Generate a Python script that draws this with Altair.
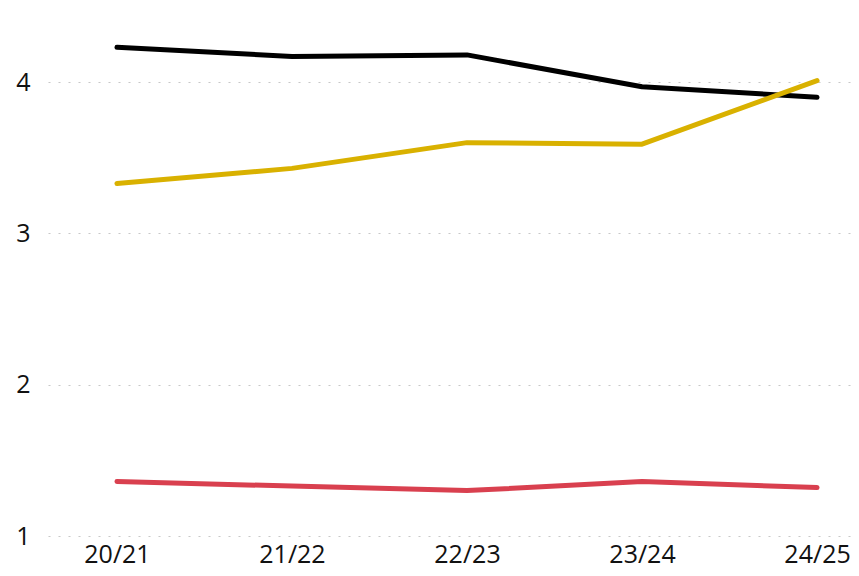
import altair as alt
import pandas as pd

seasons = ["20/21", "21/22", "22/23", "23/24", "24/25"]
black_vals = [4.23, 4.17, 4.18, 3.97, 3.90]
gold_vals = [3.33, 3.43, 3.60, 3.59, 4.01]
red_vals = [1.36, 1.33, 1.30, 1.36, 1.32]

series_names = ["A", "B", "C"]
series_colors = ["#000000", "#D9B100", "#D9404F"]

rows = []
for name, vals in zip(series_names, [black_vals, gold_vals, red_vals]):
    for i, (s, v) in enumerate(zip(seasons, vals)):
        rows.append({"series": name, "idx": i, "season": s, "value": v})
df = pd.DataFrame(rows)

label_expr = "[" + ",".join(f"'{s}'" for s in seasons) + "][datum.value]"

chart = alt.Chart(df).mark_line(strokeWidth=5, strokeCap="round", strokeJoin="round").encode(
    x=alt.X("idx:Q",
            scale=alt.Scale(domain=[-0.394, 4.194], nice=False, zero=False),
            axis=alt.Axis(values=list(range(len(seasons))), labelExpr=label_expr,
                          title=None, grid=False, domain=False, ticks=False,
                          labelFont="Open Sans", labelFontSize=25, labelFontWeight=500,
                          labelColor="#111111",
                          labelPadding=6, labelAngle=0, maxExtent=34, minExtent=34)),
    y=alt.Y("value:Q",
            scale=alt.Scale(domain=[1, 4.49], nice=False, zero=False),
            axis=alt.Axis(values=[1, 2, 3, 4], title=None, domain=False, ticks=False,
                          grid=True, gridColor="#c8c8c8", gridDash=[2, 8], gridWidth=1.2,
                          labelFont="Open Sans", labelFontSize=25, labelFontWeight=500,
                          labelColor="#111111",
                          labelPadding=18, minExtent=40, maxExtent=40, format="d")),
    color=alt.Color("series:N", scale=alt.Scale(domain=series_names, range=series_colors), legend=None),
    detail="series:N",
).properties(
    width=803, height=528, padding=0
).configure_view(stroke=None)

chart.save("out.html", embed_options={"renderer": "svg", "actions": False})
